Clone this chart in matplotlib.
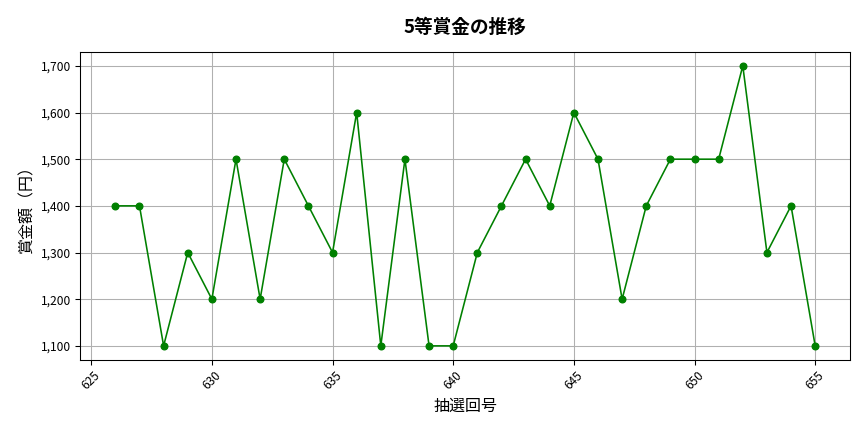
import matplotlib
matplotlib.use("Agg")
import matplotlib.pyplot as plt
from matplotlib.ticker import FuncFormatter

plt.rcParams['font.family'] = ['Noto Sans CJK JP', 'DejaVu Sans']

# 抽選回号と5等賞金
draws = list(range(626, 656))
prizes = [1400, 1400, 1100, 1300, 1200, 1500, 1200, 1500, 1400, 1300,
          1600, 1100, 1500, 1100, 1100, 1300, 1400, 1500, 1400, 1600,
          1500, 1200, 1400, 1500, 1500, 1500, 1700, 1300, 1400, 1100]

fig, ax = plt.subplots(figsize=(9, 4.5), dpi=96)
ax.plot(draws, prizes, color='green', marker='o', markersize=5, linewidth=1.2)

ax.set_title('5等賞金の推移', fontsize=14, fontweight='bold', pad=14)
ax.set_xlabel('抽選回号', fontsize=12)
ax.set_ylabel('賞金額（円）', fontsize=12)
ax.yaxis.set_major_formatter(FuncFormatter(lambda v, p: f'{int(v):,}'))
ax.grid(True, color='#b0b0b0', linewidth=0.8)
plt.setp(ax.get_xticklabels(), rotation=45)
ax.tick_params(labelsize=9)

fig.subplots_adjust(left=0.093, right=0.984, top=0.88, bottom=0.167)
fig.savefig('out.png')
